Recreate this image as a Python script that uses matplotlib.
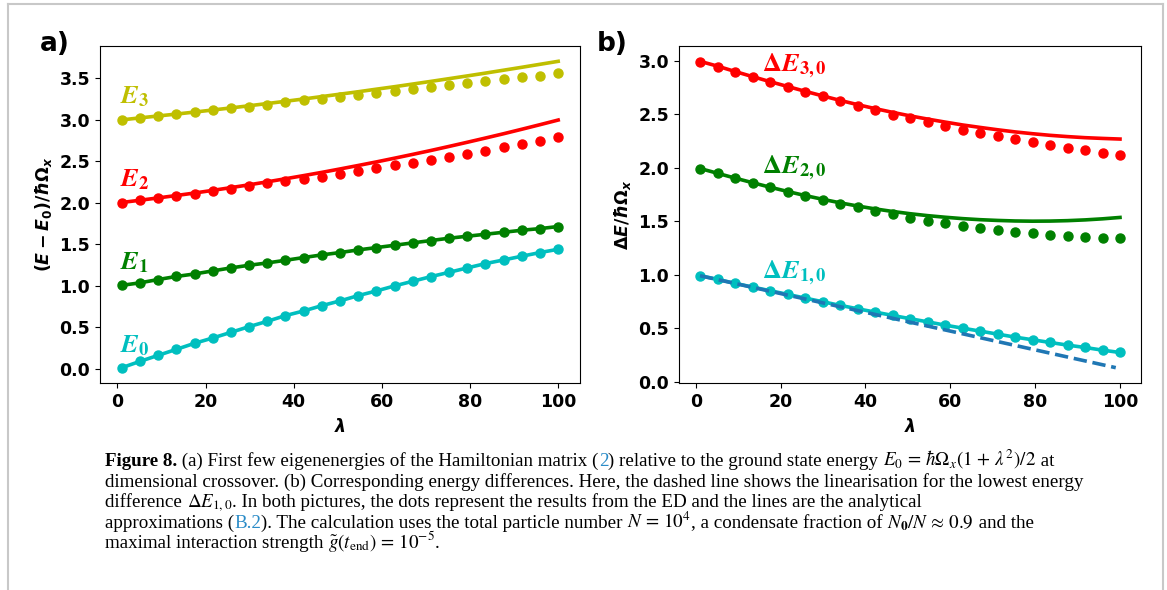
import matplotlib
matplotlib.use("Agg")
import matplotlib.pyplot as plt
from matplotlib.lines import Line2D

# lambda grid of the ED points
lam = [1, 5.125, 9.25, 13.375, 17.5, 21.625, 25.75, 29.875, 34, 38.125, 42.25, 46.375, 50.5,
       54.625, 58.75, 62.875, 67, 71.125, 75.25, 79.375, 83.5, 87.625, 91.75, 95.875, 100]

# panel a: ED dots
E0_dots = [0.012, 0.088, 0.161, 0.233, 0.306, 0.370, 0.438, 0.507, 0.571, 0.640, 0.696, 0.760, 0.817,
           0.881, 0.937, 0.998, 1.054, 1.110, 1.162, 1.215, 1.267, 1.311, 1.356, 1.400, 1.440]
E1_dots = [1.005, 1.035, 1.075, 1.112, 1.142, 1.179, 1.215, 1.247, 1.275, 1.307, 1.340, 1.372, 1.400,
           1.432, 1.460, 1.488, 1.517, 1.545, 1.573, 1.597, 1.621, 1.645, 1.669, 1.689, 1.714]
E2_dots = [2.003, 2.031, 2.056, 2.084, 2.112, 2.144, 2.168, 2.204, 2.233, 2.257, 2.285, 2.317, 2.345,
           2.381, 2.414, 2.450, 2.482, 2.518, 2.554, 2.591, 2.627, 2.667, 2.707, 2.743, 2.788]
E3_dots = [2.997, 3.025, 3.049, 3.069, 3.089, 3.117, 3.138, 3.158, 3.182, 3.210, 3.234, 3.250, 3.274,
           3.298, 3.323, 3.347, 3.371, 3.395, 3.419, 3.443, 3.463, 3.488, 3.512, 3.532, 3.560]

# panel a: analytical lines
E2_line = [2.004, 2.031, 2.059, 2.088, 2.118, 2.150, 2.183, 2.217, 2.253, 2.290, 2.328, 2.367, 2.408,
           2.450, 2.493, 2.538, 2.584, 2.631, 2.680, 2.730, 2.781, 2.833, 2.887, 2.942, 2.998]
E3_line = [3.000, 3.024, 3.047, 3.070, 3.094, 3.119, 3.144, 3.170, 3.197, 3.224, 3.252, 3.281, 3.310,
           3.339, 3.370, 3.400, 3.432, 3.464, 3.497, 3.530, 3.564, 3.599, 3.634, 3.670, 3.706]

# panel b: ED dots
dE10_dots = [0.991, 0.956, 0.919, 0.884, 0.850, 0.816, 0.781, 0.747, 0.713, 0.681, 0.650, 0.619, 0.588,
             0.559, 0.528, 0.500, 0.472, 0.444, 0.416, 0.391, 0.366, 0.341, 0.319, 0.294, 0.272]
dE20_dots = [1.988, 1.947, 1.903, 1.859, 1.819, 1.775, 1.738, 1.700, 1.663, 1.628, 1.594, 1.563, 1.534,
             1.506, 1.481, 1.456, 1.434, 1.419, 1.403, 1.388, 1.375, 1.363, 1.353, 1.347, 1.344]
dE30_dots = [2.984, 2.941, 2.891, 2.844, 2.800, 2.753, 2.709, 2.666, 2.622, 2.578, 2.538, 2.497, 2.463,
             2.425, 2.388, 2.356, 2.325, 2.294, 2.266, 2.238, 2.209, 2.188, 2.166, 2.141, 2.119]

# panel b: analytical lines
dE20_line = [1.993, 1.948, 1.903, 1.860, 1.818, 1.778, 1.740, 1.705, 1.672, 1.642, 1.615, 1.591, 1.570,
             1.552, 1.537, 1.524, 1.514, 1.507, 1.502, 1.500, 1.501, 1.505, 1.512, 1.522, 1.535]
dE30_line = [2.995, 2.950, 2.900, 2.852, 2.805, 2.760, 2.715, 2.672, 2.630, 2.590, 2.553, 2.518, 2.485,
             2.455, 2.427, 2.400, 2.377, 2.355, 2.335, 2.318, 2.303, 2.291, 2.281, 2.274, 2.268]
lin_lam = [1, 99]
lin_dE10 = [0.99, 0.13]

# ticks
xt = [0, 20, 40, 60, 80, 100]
xt_lab = ['0', '20', '40', '60', '80', '100']
yt_a = [0.0, 0.5, 1.0, 1.5, 2.0, 2.5, 3.0, 3.5]
yt_a_lab = ['0.0', '0.5', '1.0', '1.5', '2.0', '2.5', '3.0', '3.5']
yt_b = [0.0, 0.5, 1.0, 1.5, 2.0, 2.5, 3.0]
yt_b_lab = ['0.0', '0.5', '1.0', '1.5', '2.0', '2.5', '3.0']

#bold sans math for the axis labels
plt.rcParams['mathtext.fontset'] = 'custom'
plt.rcParams['mathtext.it'] = 'DejaVu Sans:italic:bold'
plt.rcParams['mathtext.rm'] = 'DejaVu Sans:bold'
plt.rcParams['mathtext.bf'] = 'DejaVu Sans:bold'
plt.rcParams['mathtext.sf'] = 'DejaVu Sans:bold'

W, H = 1167, 590
fig = plt.figure(figsize=(W/100, H/100), dpi=100)
ax1 = fig.add_axes([100/W, 1-383/H, 480/W, 337/H])
ax2 = fig.add_axes([679/W, 1-383/H, 462/W, 337/H])

lw = 2.6
ms = 6.5
#panel a
for dots, col in [(E0_dots, 'c'), (E1_dots, 'g'), (E2_dots, 'r'), (E3_dots, 'y')]:
    ax1.plot(lam, dots, 'o', color=col, ms=ms)
ax1.plot(lam, E0_dots, color='c', lw=lw)
ax1.plot(lam, E1_dots, color='g', lw=lw)
ax1.plot(lam, E2_line, color='r', lw=lw)
ax1.plot(lam, E3_line, color='y', lw=lw)

lab_kw = dict(fontsize=19, math_fontfamily='stix', ha='left', va='baseline')
ax1.text(0.5, 3.2, r'$\mathbfit{E}_{\mathbf{3}}$', color='y', **lab_kw)
ax1.text(0.5, 2.2, r'$\mathbfit{E}_{\mathbf{2}}$', color='r', **lab_kw)
ax1.text(0.5, 1.2, r'$\mathbfit{E}_{\mathbf{1}}$', color='g', **lab_kw)
ax1.text(0.5, 0.2, r'$\mathbfit{E}_{\mathbf{0}}$', color='c', **lab_kw)

ax1.set_xticks(xt, xt_lab, fontweight='bold')
ax1.set_yticks(yt_a, yt_a_lab, fontweight='bold')
ax1.set_xlabel(r'$\lambda$', fontsize=12.5, labelpad=5)
ax1.set_ylabel(r'$(E-E_0)/\hbar\Omega_x$', fontsize=12.5)

#panel b
ax2.plot(lam, dE10_dots, color='c', lw=lw)
for dots, col in [(dE10_dots, 'c'), (dE20_dots, 'g'), (dE30_dots, 'r')]:
    ax2.plot(lam, dots, 'o', color=col, ms=ms)
ax2.plot(lam, dE20_line, color='g', lw=lw)
ax2.plot(lam, dE30_line, color='r', lw=lw)
ax2.plot(lin_lam, lin_dE10, '--', color='#1f77b4', lw=lw)

ax2.text(15.5, 2.9, r'$\mathbf{\Delta}\mathbfit{E}_{\mathbf{3,0}}$', color='r', **lab_kw)
ax2.text(15.5, 1.95, r'$\mathbf{\Delta}\mathbfit{E}_{\mathbf{2,0}}$', color='g', **lab_kw)
ax2.text(15.5, 0.97, r'$\mathbf{\Delta}\mathbfit{E}_{\mathbf{1,0}}$', color='c', **lab_kw)

ax2.set_xticks(xt, xt_lab, fontweight='bold')
ax2.set_yticks(yt_b, yt_b_lab, fontweight='bold')
ax2.set_xlabel(r'$\lambda$', fontsize=12.5, labelpad=5)
ax2.set_ylabel(r'$\Delta E/\hbar\Omega_x$', fontsize=12.5)

for ax in (ax1, ax2):
    ax.tick_params(labelsize=12.5)

fig.text(40/W, 1-51/H, 'a)', fontsize=19, fontweight='bold')
fig.text(597/W, 1-51/H, 'b)', fontsize=19, fontweight='bold')

# page frame
fig.add_artist(Line2D([8/W, 8/W], [0, 1-4/H], color='#c8c8c8', lw=1.5))
fig.add_artist(Line2D([8/W, 1163/W], [1-4/H, 1-4/H], color='#c8c8c8', lw=1.5))
fig.add_artist(Line2D([1163/W, 1163/W], [0, 1-4/H], color='#c8c8c8', lw=1.5))

# caption, split so that plain text and math sit in separate pieces
blue = '#2a8bc7'
cap_kw = dict(fontsize=13.7, family='Liberation Serif', math_fontfamily='stix', va='baseline')
caption = [
    [('Figure 8.', 'k', 'bold'), (' (a) First few eigenenergies of the Hamiltonian matrix (', 'k', 'normal'),
     ('2', blue, 'normal'), (') relative to the ground state energy ', 'k', 'normal'),
     (r'$E_0\,=\,\hbar\Omega_x(1\,+\,\lambda^2)/2$', 'k', 'normal'), (' at', 'k', 'normal')],
    [('dimensional crossover. (b) Corresponding energy differences. Here, the dashed line shows the linearisation for the lowest energy', 'k', 'normal')],
    [('difference ', 'k', 'normal'), (r'$\Delta E_{1,0}$', 'k', 'normal'),
     ('. In both pictures, the dots represent the results from the ED and the lines are the analytical', 'k', 'normal')],
    [('approximations (', 'k', 'normal'), ('B.2', blue, 'normal'),
     ('). The calculation uses the total particle number ', 'k', 'normal'), (r'$N\,=\,10^4$', 'k', 'normal'),
     (', a condensate fraction of ', 'k', 'normal'), (r'$N_{\mathbf{0}}/N\,\approx\,0.9$', 'k', 'normal'),
     (' and the', 'k', 'normal')],
    [('maximal interaction strength ', 'k', 'normal'),
     (r'$\tilde{g}(t_{\mathrm{end}})\,=\,10^{-5}$', 'k', 'normal'), ('.', 'k', 'normal')],
]
renderer = fig.canvas.get_renderer()
y0 = 466
for line in caption:
    x = 105
    for s, col, wt in line:
        t = fig.text(x/W, 1-y0/H, s, color=col, fontweight=wt, **cap_kw)
        x += t.get_window_extent(renderer).width
    y0 += 20.6

fig.savefig('out.png', dpi=100)
